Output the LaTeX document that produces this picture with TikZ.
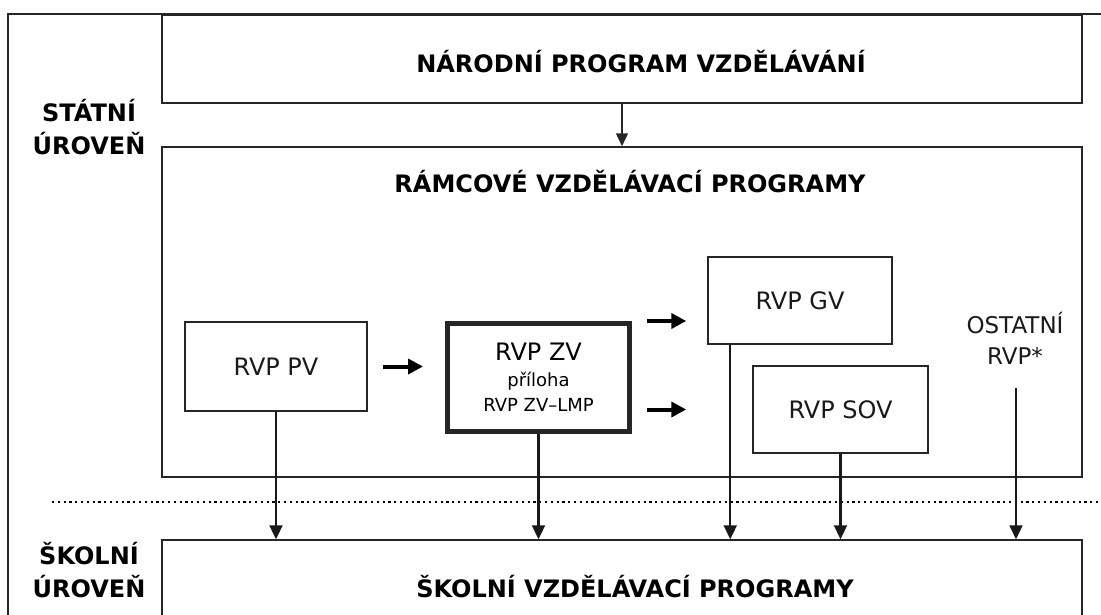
\documentclass[tikz,border=0pt]{standalone}
\usepackage{fontspec}
\setmainfont{DejaVu Sans}
\usetikzlibrary{arrows.meta,positioning,calc}

\begin{document}
\begin{tikzpicture}[x=1pt,y=-1pt,
	box/.style={draw=black!85,line width=1.5pt,inner sep=0pt},
	head/.style={font=\fontsize{24}{33}\selectfont\bfseries,text=black},
	txt/.style={font=\fontsize{24}{30}\selectfont,text=black!90},
	downarr/.style={draw=black!90,line width=2.3pt,-{Triangle[length=14pt,width=13pt]}},
	bigarr/.style={draw=black,line width=4pt,-{Triangle[length=15pt,width=15pt]}}]
				\useasboundingbox (0,0) rectangle (1101,614);

				\draw[black!85,line width=2pt] (8,640)--(8,14)--(1101,14);

				\node[box,minimum width=920pt,minimum height=88pt] (npv) at (622,59) {};
				\node[head,anchor=base] (npvtext) at (641,72) {NÁRODNÍ PROGRAM VZDĚLÁVÁNÍ};

				\node[box,minimum width=920pt,minimum height=330pt] (rvp) at (622,312) {};
				\node[head,anchor=base] (rvptext) at (630,192) {RÁMCOVÉ VZDĚLÁVACÍ PROGRAMY};

				\node[box,minimum width=920pt,minimum height=100pt] (svp) at (622,590) {};
				\node[head,anchor=base] (svptext) at (635,597) {ŠKOLNÍ VZDĚLÁVACÍ PROGRAMY};

				\node[head,align=center] (statni) at (89,127.5) {STÁTNÍ\\ÚROVEŇ};
				\node[head,align=center] (skolni) at (89,570.5) {ŠKOLNÍ\\ÚROVEŇ};

				\node[box,txt,minimum width=182pt,minimum height=89pt] (pv) at (276,366.5) {RVP PV};
				\node[box,line width=5pt,minimum width=182pt,minimum height=108pt,
					font=\fontsize{18}{25.5}\selectfont,align=center] (zv) at (538.5,377.5)
					{{\fontsize{24}{25.5}\selectfont RVP ZV}\\příloha\\RVP ZV–LMP};
				\node[box,txt,minimum width=184pt,minimum height=87pt] (gv) at (800,300.5) {RVP GV};
				\node[box,txt,minimum width=175pt,minimum height=87pt] (sov) at (840.5,409.5) {RVP SOV};
				\node[font=\fontsize{23}{31}\selectfont,text=black!90,align=center] (ost) at (1015,338) {OSTATNÍ\\RVP*};
				\coordinate (ostend) at (1016,388);

				\draw[black,line width=2.2pt,dash pattern=on 2.2pt off 3.6pt] (52,502)--(1101,502);

				\draw[draw=black!85,line width=1.5pt,-{Triangle[length=13pt,width=12pt]}]
				(npv.south)--(rvp.north);

				\draw[bigarr,shorten <=15pt,shorten >=22pt] (pv.east)--(pv.east -| zv.west);
				\draw[bigarr,shorten <=15pt,shorten >=21pt] (zv.north east)--(zv.north east -| gv.west);
				\draw[bigarr,shorten <=15pt,shorten >=21pt] (zv.east |- sov)--(sov.west -| gv.west);

				\foreach \src in {pv,zv,sov}
				{
					\draw[downarr] (\src.south)--(\src.south |- svp.north);
				}

				\draw[downarr] ([xshift=23pt]gv.south west)--([xshift=23pt]gv.south west |- svp.north);
				\draw[downarr] (ostend)--(ostend |- svp.north);
			\end{tikzpicture}
\end{document}
